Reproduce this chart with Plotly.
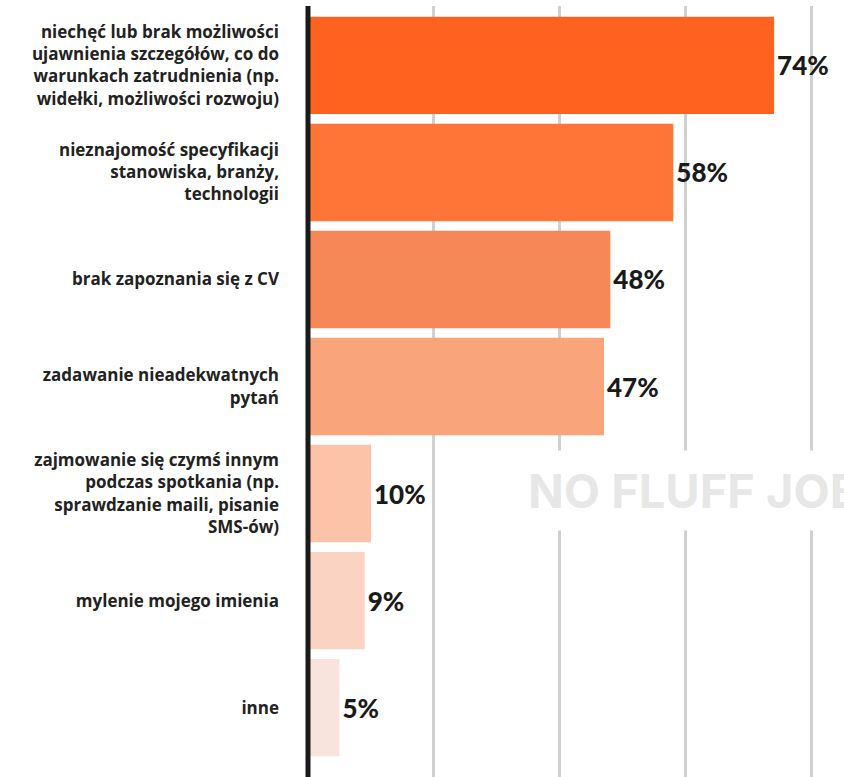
import plotly.graph_objects as go

categories = [
    "niechęć lub brak możliwości<br>ujawnienia szczegółów, co do<br>warunkach zatrudnienia (np.<br>widełki, możliwości rozwoju)",
    "nieznajomość specyfikacji<br>stanowiska, branży,<br>technologii",
    "brak zapoznania się z CV",
    "zadawanie nieadekwatnych<br>pytań",
    "zajmowanie się czymś innym<br>podczas spotkania (np.<br>sprawdzanie maili, pisanie<br>SMS-ów)",
    "mylenie mojego imienia",
    "inne",
]
values = [74, 58, 48, 47, 10, 9, 5]
bar_colors = ["#FF621E", "#FF7538", "#F68857", "#F9A47B", "#FDC3A9", "#FBD3C2", "#F8E4DD"]
value_labels = [f"{v}%" for v in values]

fig = go.Figure(
    go.Bar(
        x=values,
        y=categories,
        orientation="h",
        marker=dict(color=bar_colors, line=dict(width=0)),
        text=value_labels,
        textposition="outside",
        cliponaxis=False,
        textfont=dict(family="Lato, sans-serif", size=26, color="#1a1a1a", weight=900),
        hoverinfo="skip",
    )
)

# baseline at the left edge of the plot area, drawn over the bars' start
fig.add_shape(
    type="line", xref="paper", yref="paper",
    x0=0, x1=0, y0=0, y1=1,
    line=dict(color="#1a1a1a", width=5),
    layer="above",
)

# watermark behind the bars, with a white box that hides the gridlines
fig.add_annotation(
    text="<b>NO FLUFF JOBS</b>",
    xref="paper", yref="paper",
    x=(516 - 308) / (844 - 308), y=(777 - 490) / (777 - 6),
    xanchor="left", yanchor="middle",
    showarrow=False,
    font=dict(family="Inter, sans-serif", size=47, color="#e7e7e7", weight=900),
    bgcolor="white",
    borderpad=11,
)

fig.update_layout(
    width=844,
    height=777,
    margin=dict(l=308, r=0, t=6, b=0),
    paper_bgcolor="white",
    plot_bgcolor="white",
    bargap=0.09,
    showlegend=False,
    font=dict(family="Open Sans, sans-serif"),
    xaxis=dict(
        range=[0, 85.1],
        tickvals=[20, 40, 60, 80],
        showticklabels=False,
        showgrid=True,
        gridcolor="#d0d0d0",
        gridwidth=2.5,
        zeroline=False,
        showline=False,
        fixedrange=True,
    ),
    yaxis=dict(
        categoryorder="array",
        categoryarray=categories,
        range=[6.648, -0.555],
        showline=False,
        ticks="",
        ticklabelstandoff=28,
        tickfont=dict(family="Open Sans, sans-serif", size=17, color="#222222", weight=700),
        showgrid=False,
        zeroline=False,
        fixedrange=True,
    ),
)

fig.write_html("out.html")
